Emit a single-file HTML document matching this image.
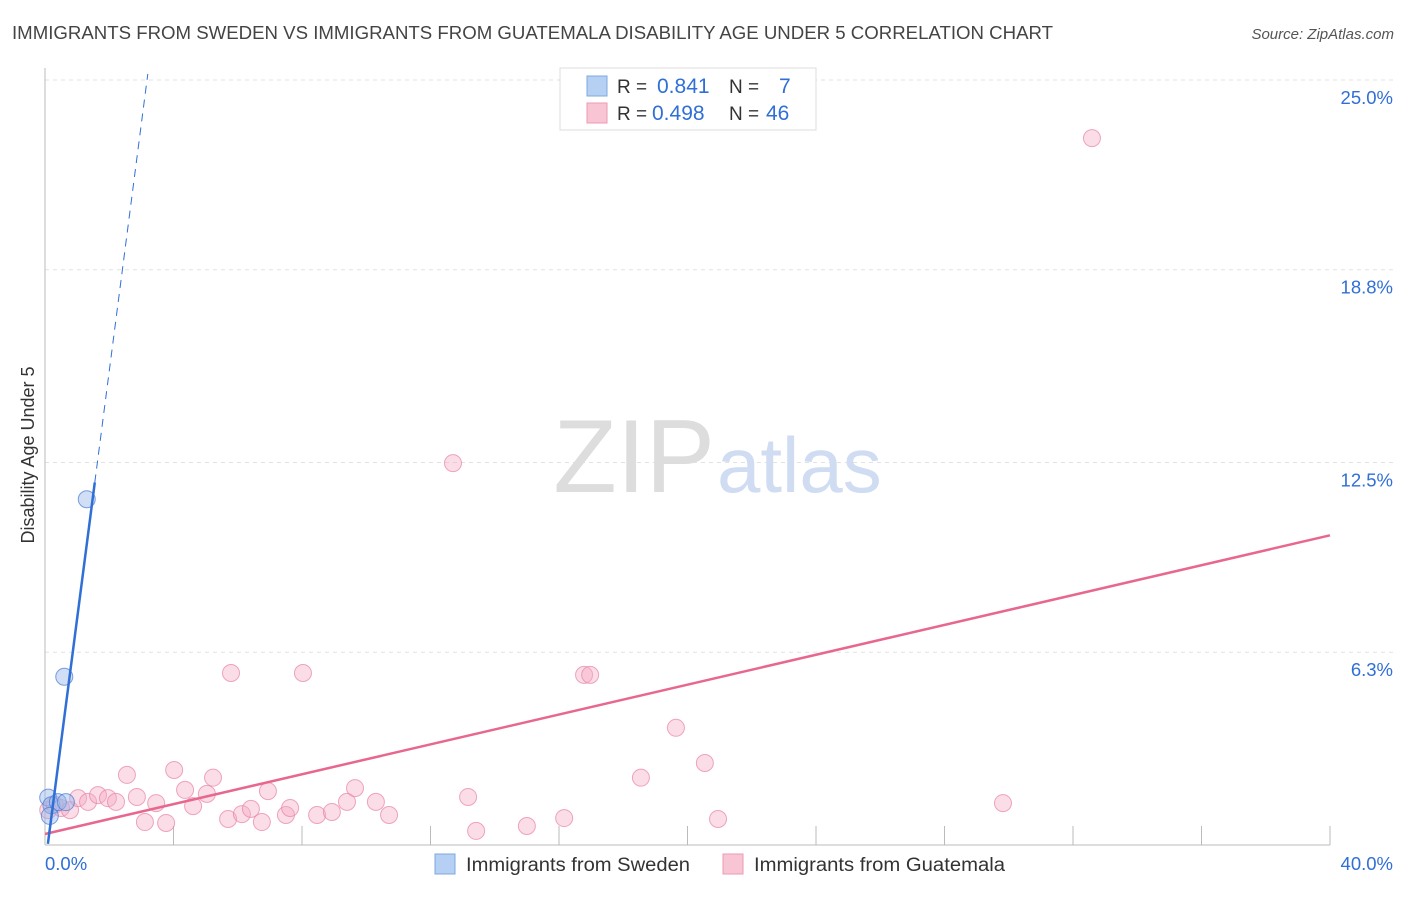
<!DOCTYPE html>
<html><head><meta charset="utf-8"><style>
body{margin:0;background:#fff;font-family:"Liberation Sans",sans-serif;}
svg text{font-family:"Liberation Sans",sans-serif;}
</style></head><body>
<svg width="1406" height="892" xmlns="http://www.w3.org/2000/svg">
<text x="12" y="39" font-size="18" fill="#444" textLength="1041" lengthAdjust="spacingAndGlyphs">IMMIGRANTS FROM SWEDEN VS IMMIGRANTS FROM GUATEMALA DISABILITY AGE UNDER 5 CORRELATION CHART</text>
<text x="1394" y="39" font-size="15" fill="#555" font-style="italic" text-anchor="end">Source: ZipAtlas.com</text>
<text x="34" y="455" font-size="18" fill="#333" text-anchor="middle" transform="rotate(-90 34 455)">Disability Age Under 5</text>
<g id="grid"></g>
<text x="715" y="492" font-size="104" fill="#ddd" font-family="Liberation Serif" text-anchor="end">ZIP</text>
<text x="717" y="492" font-size="78" fill="#cfdcf2">atlas</text>
<g id="marks"></g>
<g>
<rect x="560" y="68" width="256" height="62" fill="#fff" stroke="#ddd"/>
<rect x="587" y="76" width="20" height="20" fill="#b5d0f3" stroke="#7fa8e0"/>
<rect x="587" y="103" width="20" height="20" fill="#f8c5d4" stroke="#ee9ab3"/>
<text x="617" y="93" font-size="19" fill="#333">R = </text><text x="657" y="93" font-size="21" fill="#2f6fd6">0.841</text>
<text x="729" y="93" font-size="19" fill="#333">N = </text><text x="779" y="93" font-size="21" fill="#2f6fd6">7</text>
<text x="617" y="120" font-size="19" fill="#333">R = </text><text x="652" y="120" font-size="21" fill="#2f6fd6">0.498</text>
<text x="729" y="120" font-size="19" fill="#333">N = </text><text x="766" y="120" font-size="21" fill="#2f6fd6">46</text>
</g>
<g>
<rect x="435" y="854" width="20" height="20" fill="#b5d0f3" stroke="#7fa8e0"/>
<text x="466" y="871" font-size="19" fill="#333" textLength="224" lengthAdjust="spacingAndGlyphs">Immigrants from Sweden</text>
<rect x="723" y="854" width="20" height="20" fill="#f8c5d4" stroke="#ee9ab3"/>
<text x="754" y="871" font-size="19" fill="#333" textLength="251" lengthAdjust="spacingAndGlyphs">Immigrants from Guatemala</text>
</g>
</svg>
<script>
const yTicks=[6.3,12.5,18.8,25.0];
const xTickLabels=["0.0%","40.0%"];
const swedenX=[1.3,0.6,0.1,0.2,0.4,0.65,0.15];
const swedenY=[11.3,5.5,1.55,1.3,1.4,1.4,0.95];
const guatX=[0.1,0.3,0.5,0.78,1.03,1.34,1.65,1.96,2.21,2.55,2.86,3.11,3.46,3.77,4.02,4.36,4.61,5.04,5.23,5.7,5.79,6.13,6.41,6.75,6.94,7.5,7.63,8.03,8.47,8.93,9.4,9.65,10.3,10.71,12.7,13.17,13.42,15.0,16.16,16.78,16.97,18.55,19.64,20.54,20.95,29.82,32.59];
const guatY=[1.14,1.31,1.21,1.14,1.53,1.41,1.63,1.53,1.41,2.29,1.57,0.75,1.37,0.72,2.45,1.8,1.27,1.67,2.2,0.85,5.62,1.01,1.18,0.75,1.76,0.98,1.21,5.62,0.98,1.08,1.41,1.86,1.41,0.98,12.48,1.57,0.46,0.62,0.88,5.56,5.56,2.2,3.83,2.68,0.85,1.37,23.1];
const swedenLine=[-0.69,8.09];
const guatLine=[0.36,0.244];
const NS="http://www.w3.org/2000/svg";
const X=v=>45+v*(1285/40), Y=v=>845-v*30.6;
function mk(t,a,p){const e=document.createElementNS(NS,t);for(const k in a)e.setAttribute(k,a[k]);p.appendChild(e);return e;}
const g=document.getElementById('grid'), m=document.getElementById('marks');
yTicks.forEach(t=>{
 const l=mk('line',{x1:45,x2:1394,y1:Y(t),y2:Y(t),stroke:'#e2e2e2','stroke-dasharray':'4,4'},g);
 
 
 const tx=mk('text',{x:1393,y:Y(t)+24,'font-size':18.5,fill:'#2f6fd6','text-anchor':'end'},g);
 tx.textContent=t.toFixed(1)+'%';
 
 
});
mk('line',{x1:45,x2:45,y1:68,y2:845,stroke:'#bbb'},g);
mk('line',{x1:45,x2:1330,y1:845,y2:845,stroke:'#bbb'},g);
for(let i=1;i<=10;i++){mk('line',{x1:X(i*4),x2:X(i*4),y1:826,y2:845,stroke:'#bbb'},g);}
const xl0=mk('text',{x:45,y:870,'font-size':18.5,fill:'#2f6fd6'},g);xl0.textContent=xTickLabels[0];


const xl1=mk('text',{x:1393,y:870,'font-size':18.5,fill:'#2f6fd6','text-anchor':'end'},g);xl1.textContent=xTickLabels[1];


guatX.forEach((v,i)=>{
 const c=mk('circle',{cx:X(v),cy:Y(guatY[i]),r:8.5,fill:'rgba(245,170,195,0.4)',stroke:'rgba(232,130,165,0.7)','stroke-width':1},m);
 
 
});
swedenX.forEach((v,i)=>{
 const c=mk('circle',{cx:X(v),cy:Y(swedenY[i]),r:8.5,fill:'rgba(150,185,235,0.45)',stroke:'rgba(70,120,210,0.7)','stroke-width':1},m);
 
 
});
const gl=mk('line',{x1:X(0),y1:Y(guatLine[0]),x2:X(40),y2:Y(guatLine[0]+40*guatLine[1]),stroke:'#e8678f','stroke-width':2.5},m);


const sx0=0.09, sx1=1.55, sx2=(25.2-swedenLine[0])/swedenLine[1];
const sl=mk('line',{x1:X(sx0),y1:Y(swedenLine[0]+sx0*swedenLine[1]),x2:X(sx1),y2:Y(swedenLine[0]+sx1*swedenLine[1]),stroke:'#2f6fd6','stroke-width':2.5},m);


const sd=mk('line',{x1:X(sx1),y1:Y(swedenLine[0]+sx1*swedenLine[1]),x2:X(sx2),y2:Y(25.2),stroke:'#2f6fd6','stroke-width':1,'stroke-dasharray':'8,6'},m);


</script>
</body></html>
